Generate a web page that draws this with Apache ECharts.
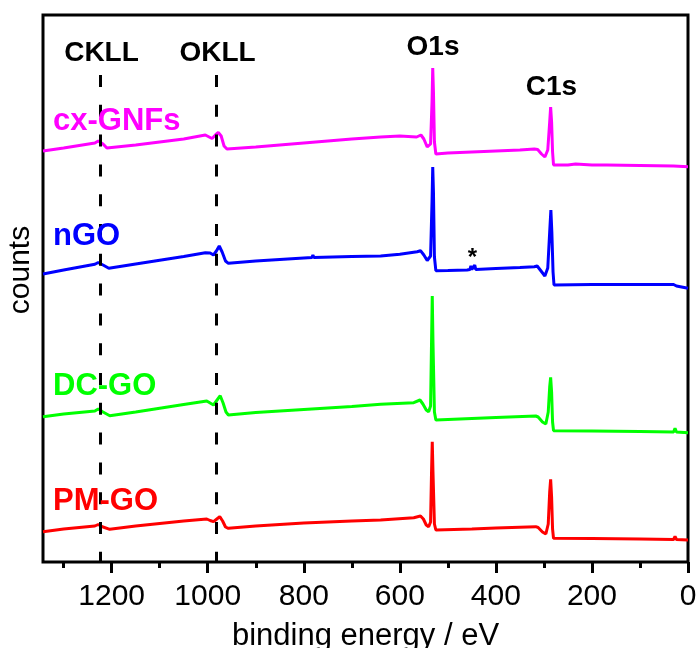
<!DOCTYPE html>
<html>
<head>
    <meta charset="utf-8">
    <title>XPS survey</title>
    <script src="https://cdn.jsdelivr.net/npm/echarts@6/dist/echarts.min.js"></script>
    <style>
        html, body { margin: 0; padding: 0; background: #fff; }
        #chart { width: 697px; height: 648px; }
    </style>
</head>
<body>
    <div id="chart"></div>

    <script>
        // spectra, [binding energy (eV), counts (offset, arb. units)]
        var cxGNFs = [
            [1343, 411], [1300, 414], [1235, 419], [1228, 421], [1224, 423], [1218, 418], [1210, 414],
            [1150, 417], [1050, 423], [1005, 427], [997, 425], [991, 423.5], [984, 427], [978, 429.5],
            [972, 426], [966, 416], [960, 413], [900, 415], [800, 419], [700, 423], [640, 425],
            [600, 426], [565, 425], [556, 427], [550, 423], [543, 415], [539, 413.5], [536, 418],
            [533, 460], [531.5, 494], [530, 470], [528, 420], [525, 408], [500, 409], [450, 410],
            [400, 411], [350, 412], [320, 413], [313, 412.5], [305, 408], [298, 405], [292, 412],
            [288, 440], [286, 455], [284, 440], [282, 410], [280, 397], [250, 397], [234, 398],
            [232, 399.5], [230, 398], [200, 397], [169, 397], [167, 398.5], [165, 397], [100, 396.5],
            [30, 396], [28, 397.5], [26, 396], [0, 395.3]
        ];
        var nGO = [
            [1343, 288], [1300, 292], [1235, 297.7], [1228, 299.5], [1224, 301], [1218, 297], [1206, 293.7],
            [1150, 298], [1050, 305.5], [1005, 309.3], [1002, 311.3], [995, 309], [988, 307], [982, 311],
            [976, 316], [970, 310], [963, 301], [957, 298.7], [900, 301], [800, 304], [783, 304.5],
            [781, 307], [779, 304.5], [700, 305.5], [640, 306], [600, 307.7], [564, 310.3], [557, 311.3],
            [550, 307], [543, 301.5], [539, 300.3], [536, 306], [533, 360], [531.5, 395], [530, 370],
            [528, 305], [525, 291.3], [500, 291.5], [460, 292], [454, 292.5], [452, 296], [450, 292.5],
            [446, 292.5], [444, 297], [442, 292.5], [400, 293.5], [350, 294.5], [320, 295.3], [314, 296],
            [306, 291], [298, 286], [292, 294], [288, 330], [285.5, 352], [283.5, 330], [281, 290],
            [279, 277], [200, 277.5], [100, 277.5], [30, 277.5], [27, 279], [24, 276], [0, 273.7]
        ];
        var dcGO = [
            [1343, 145.3], [1300, 148], [1235, 151], [1228, 153], [1224, 154.3], [1218, 150], [1204, 146.3],
            [1150, 150], [1050, 157.5], [1002, 161], [995, 159], [988, 157], [982, 161], [974, 166.3],
            [968, 159], [962, 150], [957, 147], [900, 149.5], [800, 152.5], [700, 155.5], [640, 157.7],
            [571, 159.3], [558, 162], [552, 158], [545, 152], [540, 150.3], [536, 156], [534, 220],
            [532.5, 266], [531, 220], [528, 150], [525, 142], [450, 143.5], [400, 144.5], [317, 146],
            [312, 145], [303, 140], [296, 138], [291, 150], [288, 175], [286, 184.7], [284, 170],
            [282, 140], [280, 131.3], [200, 131], [100, 130.5], [30, 130], [27, 133.7], [24, 130], [0, 129.3]
        ];
        var pmGO = [
            [1343, 30.3], [1300, 33], [1235, 36], [1228, 37.5], [1224, 38.7], [1218, 35], [1204, 32.7],
            [1150, 36], [1050, 41], [1002, 43], [995, 41.5], [988, 40.3], [981, 43], [975, 45.3],
            [969, 41], [963, 35], [957, 33.7], [900, 36], [800, 39], [700, 41], [640, 42],
            [571, 44.3], [557, 46], [551, 43], [545, 37], [540, 35.3], [536, 40], [534, 90],
            [532.5, 120.3], [531, 90], [528, 38], [525, 32], [450, 33], [400, 34], [317, 35.3],
            [312, 34.5], [303, 30], [296, 28], [291, 38], [288, 70], [286, 82.7], [284, 65],
            [282, 33], [280, 23.7], [200, 23.5], [100, 23], [30, 22.5], [27, 25.5], [24, 22.5], [0, 22]
        ];

        var seriesNames = ['cx-GNFs', 'nGO', 'DC-GO', 'PM-GO'];
        var seriesColors = ['#ff00ff', '#0000ff', '#00ff00', '#ff0000'];
        var majorTicks = [0, 200, 400, 600, 800, 1000, 1200];
        var minorTicks = [100, 300, 500, 700, 900, 1100, 1300];
        // Auger lines (dashed markers)
        var augerEnergies = [1223, 983];
        var augerNames = ['CKLL', 'OKLL'];
        var peakNames = ['O1s', 'C1s'];

        var FONT = "'Liberation Sans', Arial, sans-serif";
        var chart = echarts.init(document.getElementById('chart'));

        var allData = [cxGNFs, nGO, dcGO, pmGO];
        var series = allData.map(function (d, i) {
            return {
                name: seriesNames[i],
                type: 'line',
                data: d,
                showSymbol: false,
                lineStyle: { color: seriesColors[i], width: 3 },
                z: 2
            };
        });
        // dashed Auger markers
        series[3].markLine = {
            silent: true,
            symbol: 'none',
            label: { show: false },
            lineStyle: { color: '#000', width: 3, type: [12, 17.8] },
            data: augerEnergies.map(function (e) {
                return [{ coord: [e, 487] }, { coord: [e, 0] }];
            })
        };

        function txt(x, y, s, size, color, align, bold) {
            return {
                type: 'text', x: x, y: y, z: 10,
                style: {
                    text: s, fill: color, align: align || 'center', verticalAlign: 'middle',
                    font: (bold === false ? '' : 'bold ') + size + 'px ' + FONT
                }
            };
        }

        var option = {
            animation: false,
            grid: {
                left: 43, right: 9, top: 15, bottom: 86, show: true,
                borderColor: '#000', borderWidth: 3, outerBoundsMode: 'none', containLabel: false
            },
            xAxis: [{
                type: 'value', inverse: true, min: 0, max: 1343,
                name: 'binding energy / eV', nameLocation: 'middle', nameGap: 59,
                nameTextStyle: { fontFamily: FONT, fontSize: 31, color: '#000' },
                axisLine: { show: false },
                axisTick: { show: true, inside: false, length: 11, lineStyle: { color: '#000', width: 3 }, customValues: majorTicks },
                axisLabel: {
                    fontFamily: FONT, fontSize: 30, color: '#000', margin: 20, customValues: majorTicks,
                    formatter: function (v) { return String(v); }
                },
                splitLine: { show: false }
            }, {
                type: 'value', inverse: true, min: 0, max: 1343, position: 'bottom',
                axisLine: { show: false },
                axisTick: { show: true, length: 6, lineStyle: { color: '#000', width: 3 }, customValues: minorTicks },
                axisLabel: { show: false },
                splitLine: { show: false }
            }],
            yAxis: {
                type: 'value', min: 0, max: 547,
                axisLine: { show: false }, axisTick: { show: false },
                axisLabel: { show: false }, splitLine: { show: false }
            },
            series: series,
            graphic: [
                txt(101.5, 53, augerNames[0], 28, '#000'),
                txt(217.5, 53, augerNames[1], 28, '#000'),
                txt(433, 47, peakNames[0], 28, '#000'),
                txt(551.5, 87, peakNames[1], 28, '#000'),
                txt(472.5, 258, '*', 24, '#000'),
                txt(53, 121, seriesNames[0], 31, seriesColors[0], 'left'),
                txt(53, 236.5, seriesNames[1], 31, seriesColors[1], 'left'),
                txt(53, 386.5, seriesNames[2], 31, seriesColors[2], 'left'),
                txt(53, 501.5, seriesNames[3], 31, seriesColors[3], 'left'),
                {
                    type: 'text', x: 21, y: 270, rotation: Math.PI / 2, z: 10,
                    style: { text: 'counts', fill: '#000', align: 'center', verticalAlign: 'middle', font: '30px ' + FONT }
                }
            ]
        };

        chart.setOption(option);
    </script>
</body>
</html>
